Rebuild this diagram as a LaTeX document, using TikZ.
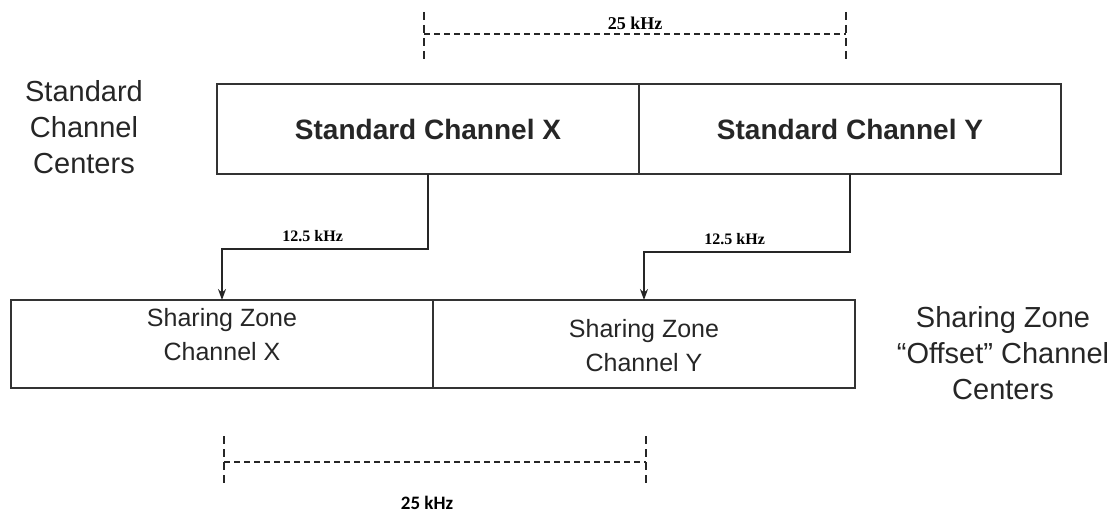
\documentclass[tikz,border=0pt]{standalone}
\usepackage{fontspec}
\setmainfont{Liberation Sans}
\newfontfamily\dimserif{Liberation Serif}
\newfontfamily\dimsans{Carlito}
\usetikzlibrary{positioning,arrows.meta}

\begin{document}
\begin{tikzpicture}[x=1pt, y=-1pt,
        chanbox/.style={draw=black!80, line width=1.6pt, minimum width=422pt,
            minimum height=90pt, inner sep=0pt, outer sep=0pt, align=center},
        chantext/.style={text=black!85, font=\bfseries\fontsize{28}{36}\selectfont},
        zonetext/.style={align=center, text=black!85, font=\fontsize{25}{34}\selectfont},
        sidetext/.style={align=center, text=black!85, font=\fontsize{29}{36}\selectfont},
        offset/.style={draw=black!85, line width=1.3pt, -{Stealth[length=11pt, width=8pt]}},
        offsetlabel/.style={font=\dimserif\bfseries\fontsize{16}{18}\selectfont, inner sep=1pt},
        dimline/.style={black!85, line width=1.3pt, dash pattern=on 6pt off 4pt},
        dimtick/.style={black!85, line width=2pt, dash pattern=on 8pt off 5pt}]
        \useasboundingbox (0,0) rectangle (1112,516);

        % --- Standard channels (top row) ---
        \node[chanbox, chantext] (stdX) at (428,129) {Standard Channel X};
        \node[chanbox, chantext, right=0pt of stdX] (stdY) {Standard Channel Y};

        % --- Sharing zone channels (bottom row) ---
        \node[chanbox, minimum height=88pt] (shX) at (222,344) {};
        \node[chanbox, minimum height=88pt, right=0pt of shX] (shY) {};
        \node[zonetext] (shXtext) at ([yshift=9pt]shX.center) {Sharing Zone\\Channel X};
        \node[zonetext] (shYtext) at ([yshift=-2pt]shY.center) {Sharing Zone\\Channel Y};

        % --- Side labels ---
        \node[sidetext] (stdcenters) at (84,127) {Standard\\Channel\\Centers};
        \node[sidetext] (zonecenters) at (1003,353) {Sharing Zone\\``Offset'' Channel\\Centers};

        % --- 12.5 kHz offsets ---
        \draw[offset] (stdX.south) -- ++(0,75) -| (shX.north)
            node[pos=0.28, above=6pt, offsetlabel] (offX) {12.5 kHz};
        \draw[offset] (stdY.south) -- ++(0,78) -| (shY.north)
            node[pos=0.28, above=6pt, offsetlabel] (offY) {12.5 kHz};

        % --- 25 kHz spacing, standard centers ---
        \coordinate (topL) at (424,34);
        \coordinate (topR) at (846,34);
        \draw[dimtick] (424,12) -- (424,62);
        \draw[dimtick] (846,12) -- (846,62);
        \draw[dimline] (topL) -- (topR);
        \node[font=\dimserif\bfseries\fontsize{18}{20}\selectfont] (topdim) at (635,23) {25 kHz};

        % --- 25 kHz spacing, offset centers ---
        \coordinate (botL) at (224,462);
        \coordinate (botR) at (646,462);
        \draw[dimtick] (224,436) -- (224,486);
        \draw[dimtick] (646,436) -- (646,486);
        \draw[dimline] (botL) -- (botR);
        \node[font=\dimsans\bfseries\fontsize{19}{21}\selectfont] (botdim) at (427,503) {25 kHz};
    \end{tikzpicture}
\end{document}
